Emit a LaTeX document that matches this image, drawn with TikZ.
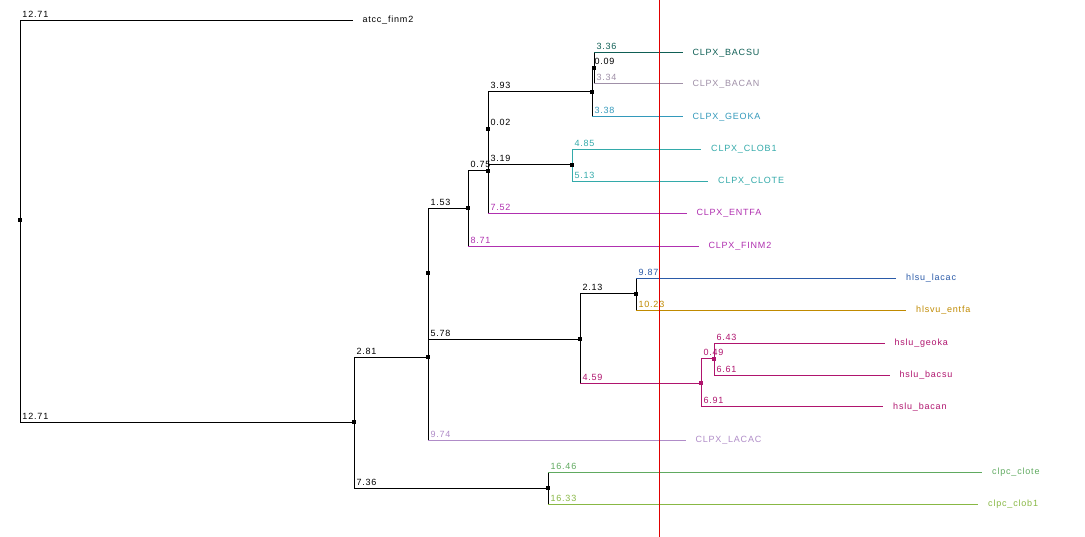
\documentclass[tikz,border=0pt]{standalone}
\usepackage{fontspec}
\newfontfamily\labfont[LetterSpace=9]{Liberation Sans}
\definecolor{cBacsu}{HTML}{0F5F55}
\definecolor{cBacan}{HTML}{A090A8}
\definecolor{cGeoka}{HTML}{3399BB}
\definecolor{cClo}{HTML}{33AAAA}
\definecolor{cEnt}{HTML}{B030B0}
\definecolor{cHlacac}{HTML}{2A5AA8}
\definecolor{cHentfa}{HTML}{C08A00}
\definecolor{cHslu}{HTML}{B0146E}
\definecolor{cLacac}{HTML}{B08CC8}
\definecolor{cClote}{HTML}{60AA60}
\definecolor{cClob}{HTML}{88B844}
\definecolor{cRed}{HTML}{E00000}
\newcommand\dbr[5]{%
  \draw[#3] (#1) -- (#1 |- #2);
  \draw[#4] (#1 |- #2) -- (#2);
  \node[num,text=#4,xshift=2pt,yshift=3pt] at (#1 |- #2) {#5};}
\begin{document}
\begin{tikzpicture}[x=1pt,y=-1pt,line width=1pt,line cap=rect,
  num/.style={anchor=base west,inner sep=0pt,font=\labfont\fontsize{9}{10}\selectfont},
  nm/.style={anchor=base west,inner sep=0pt,font=\labfont\fontsize{9}{10}\selectfont,xshift=10pt,yshift=-2.5pt},
  sq/.style={rectangle,fill,inner sep=0pt,minimum size=4pt}]
\useasboundingbox (0,0) rectangle (1085,537);
\fill[white] (0,0) rectangle (1085,537);
% internal nodes
\coordinate (root) at (20,220.5);
\coordinate (A) at (354,422.3);
\coordinate (B) at (428,357.3);
\coordinate (M) at (548,488.3);
\coordinate (N) at (428,273.5);
\coordinate (C) at (468,208.3);
\coordinate (D) at (488,170.7);
\coordinate (E) at (488,129);
\coordinate (F) at (592,92);
\coordinate (G) at (594,68);
\coordinate (H) at (572,164.7);
\coordinate (I) at (580,339.3);
\coordinate (J) at (636,293.7);
\coordinate (K) at (701,383.3);
\coordinate (L) at (714,359);
% leaf ends
\coordinate (eAtcc) at (352,20.5);
\coordinate (eBacsu) at (682,52.7);
\coordinate (eBacan) at (682,84);
\coordinate (eGeoka) at (682,116.7);
\coordinate (eClob) at (700.7,149.3);
\coordinate (eClote) at (707.7,181.3);
\coordinate (eEntfa) at (686,213.3);
\coordinate (eFinm) at (698,246.3);
\coordinate (eLacac) at (685,440.3);
\coordinate (ehLacac) at (895.7,278.3);
\coordinate (ehEntfa) at (905.7,310.3);
\coordinate (ehGeoka) at (884,343.3);
\coordinate (ehBacsu) at (889,375.3);
\coordinate (ehBacan) at (882.7,406.7);
\coordinate (ecClote) at (981.7,472.3);
\coordinate (ecClob) at (977.7,504.3);
% branches
\dbr{root}{eAtcc}{black}{black}{12.71}
\dbr{root}{A}{black}{black}{12.71}
\dbr{A}{B}{black}{black}{2.81}
\dbr{A}{M}{black}{black}{7.36}
\dbr{M}{ecClote}{black}{cClote}{16.46}
\dbr{M}{ecClob}{black}{cClob}{16.33}
\draw (B) -- (N);
\dbr{B}{eLacac}{black}{cLacac}{9.74}
\dbr{N}{C}{black}{black}{1.53}
\dbr{N}{I}{black}{black}{5.78}
\dbr{C}{D}{black}{black}{0.75}
\dbr{C}{eFinm}{black}{cEnt}{8.71}
\dbr{D}{E}{black}{black}{0.02}
\dbr{D}{eEntfa}{black}{cEnt}{7.52}
\dbr{E}{F}{black}{black}{3.93}
\dbr{E}{H}{black}{black}{3.19}
\dbr{F}{G}{black}{black}{0.09}
\dbr{F}{eGeoka}{black}{cGeoka}{3.38}
\dbr{G}{eBacsu}{black}{cBacsu}{3.36}
\dbr{G}{eBacan}{black}{cBacan}{3.34}
\dbr{H}{eClob}{cClo}{cClo}{4.85}
\dbr{H}{eClote}{cClo}{cClo}{5.13}
\dbr{I}{J}{black}{black}{2.13}
\dbr{I}{K}{black}{cHslu}{4.59}
\dbr{J}{ehLacac}{black}{cHlacac}{9.87}
\dbr{J}{ehEntfa}{black}{cHentfa}{10.23}
\dbr{K}{L}{cHslu}{cHslu}{0.49}
\dbr{K}{ehBacan}{cHslu}{cHslu}{6.91}
\dbr{L}{ehGeoka}{cHslu}{cHslu}{6.43}
\dbr{L}{ehBacsu}{cHslu}{cHslu}{6.61}
% node squares
\foreach \p in {root,A,B,M,N,C,D,E,F,G,H,I,J}{\node[sq] (sq\p) at (\p) {};}
\node[sq,fill=cHslu] (sqK) at (K) {};
\node[sq,fill=cHslu] (sqL) at (L) {};
% leaf names
\node[nm] (nAtcc) at (eAtcc) {atcc\_finm2};
\node[nm,text=cBacsu] (nBacsu) at (eBacsu) {CLPX\_BACSU};
\node[nm,text=cBacan] (nBacan) at (eBacan) {CLPX\_BACAN};
\node[nm,text=cGeoka] (nGeoka) at (eGeoka) {CLPX\_GEOKA};
\node[nm,text=cClo] (nClob) at (eClob) {CLPX\_CLOB1};
\node[nm,text=cClo] (nClote) at (eClote) {CLPX\_CLOTE};
\node[nm,text=cEnt] (nEntfa) at (eEntfa) {CLPX\_ENTFA};
\node[nm,text=cEnt] (nFinm) at (eFinm) {CLPX\_FINM2};
\node[nm,text=cLacac] (nLacac) at (eLacac) {CLPX\_LACAC};
\node[nm,text=cHlacac] (nhLacac) at (ehLacac) {hlsu\_lacac};
\node[nm,text=cHentfa] (nhEntfa) at (ehEntfa) {hlsvu\_entfa};
\node[nm,text=cHslu] (nhGeoka) at (ehGeoka) {hslu\_geoka};
\node[nm,text=cHslu] (nhBacsu) at (ehBacsu) {hslu\_bacsu};
\node[nm,text=cHslu] (nhBacan) at (ehBacan) {hslu\_bacan};
\node[nm,text=cClote] (ncClote) at (ecClote) {clpc\_clote};
\node[nm,text=cClob] (ncClob) at (ecClob) {clpc\_clob1};
% red marker line
\coordinate (redTop) at (659.3,0);
\coordinate (redBot) at (659.3,537);
\draw[cRed,line cap=butt] (redTop) -- (redBot);
\end{tikzpicture}
\end{document}
